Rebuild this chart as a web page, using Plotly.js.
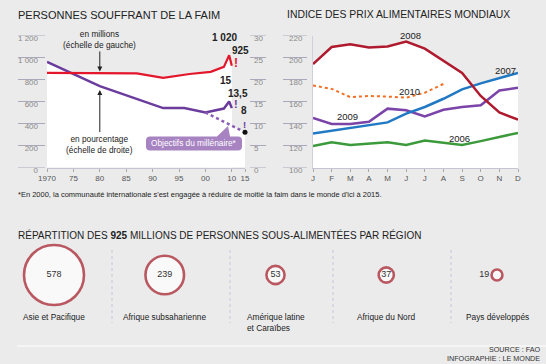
<!DOCTYPE html>
<html><head><meta charset="utf-8">
<script src="https://cdn.plot.ly/plotly-3.0.1.min.js"></script>
<style>html,body{margin:0;padding:0;background:#ebebeb;}#chart{width:546px;height:364px;}</style>
</head><body><div id="chart"></div>
<script>
// ---------- DATA ----------
const hungerYears = [1970, 1980, 1987, 1992, 1997, 2002, 2007, 2009, 2010];
const hungerMillions = [860, 855, 855, 815, 850, 870, 915, 1020, 925];
const pctYears = [1970, 1980, 1992, 1996, 2000, 2007, 2009, 2010];
const hungerPct = [24, 18.5, 13.5, 13.5, 12.5, 13.4, 15, 13.5];
const goalYears = [2000, 2015];
const goalPct = [12.5, 8];
const yearTicks = [1970, 1975, 1980, 1985, 1990, 1995, 2000, 2010, 2015];
const yearTickLabels = ['1970', '75', '80', '85', '90', '95', '00', '10', '15'];
const millionTicks = [0, 200, 400, 600, 800, 1000, 1200];
const millionTickLabels = ['0', '200', '400', '600', '800', '1 000', '1 200'];
const pctTicks = [0, 5, 10, 15, 20, 25, 30];

const months = ['J', 'F', 'M', 'A', 'M', 'J', 'J', 'A', 'S', 'O', 'N', 'D'];
const fpiTicks = [100, 120, 140, 160, 180, 200, 220];
const fpi2006 = [119.5, 123, 120.5, 121.5, 123, 120.5, 124.5, 122.5, 120.5, 124, 128, 131.5];
const fpi2007 = [131, 133.5, 136, 138.5, 141, 149, 155, 162.5, 171, 176.5, 181, 186];
const fpi2008 = [194, 209.5, 212, 209, 210, 214.5, 208, 197, 186, 165, 150, 143.5];
const fpi2009 = [145, 139.5, 139.5, 141.5, 153.5, 152, 146.5, 152.5, 155, 156.5, 170, 172.5];
const fpi2010 = [174.5, 171.5, 164, 165, 164.5, 163.5, 168, 176];

const regions = ['Asie et Pacifique', 'Afrique subsaharienne', 'Amérique latine<br>et Caraïbes', 'Afrique du Nord', 'Pays développés'];
const regionMillions = [578, 239, 53, 37, 19];

// ---------- HELPERS ----------
const W = 546, H = 364;
const px = x => x / W, py = y => 1 - y / H;
const P = (x, y) => px(x).toFixed(5) + ',' + py(y).toFixed(5);
// broken time scale of the original: 1970-2000 full width, 2000-2015 compressed by half
const yearPos = y => (y <= 2000 ? y - 1970 : 30 + (y - 2000) * 0.5);
const FONT = '"Liberation Sans", Arial, Helvetica, sans-serif';
const RED = '#e3162c', PURPLE = '#6b3b9d';
const monthIdx = months.map((m, i) => i);

const traces = [];
const fillT = (x, y, xa, ya) => ({x, y, xaxis: xa, yaxis: ya, mode: 'lines', fill: 'tozeroy',
  fillcolor: '#ffffff', line: {width: 0, color: 'rgba(0,0,0,0)'}, hoverinfo: 'skip'});
// left chart white area
traces.push(fillT(hungerYears.map(yearPos), hungerMillions, 'x', 'y'));
traces.push(fillT(pctYears.map(yearPos), hungerPct, 'x', 'y2'));
traces.push(fillT(goalYears.map(yearPos), goalPct, 'x', 'y2'));
// purple lines
traces.push({x: pctYears.map(yearPos), y: hungerPct, xaxis: 'x', yaxis: 'y2', mode: 'lines',
  line: {color: PURPLE, width: 2.5}, cliponaxis: false});
traces.push({x: goalYears.map(yearPos), y: goalPct, xaxis: 'x', yaxis: 'y2', mode: 'lines',
  line: {color: '#8a5bb5', width: 2.5, dash: 'dot'}, cliponaxis: false});
traces.push({x: [yearPos(goalYears[1])], y: [goalPct[1]], xaxis: 'x', yaxis: 'y2', mode: 'markers',
  marker: {color: '#111', size: 5}, cliponaxis: false});
// red line on an overlay with the same scale as left axis
traces.push({x: hungerYears.map(yearPos), y: hungerMillions, xaxis: 'x', yaxis: 'y5', mode: 'lines',
  line: {color: RED, width: 2.2}, cliponaxis: false});

// right chart white area
[fpi2006, fpi2007, fpi2008, fpi2009, fpi2010].forEach(s => traces.push(fillT(monthIdx.slice(0, s.length), s, 'x3', 'y3')));
const fpiLine = (s, color, dash, w) => ({x: monthIdx.slice(0, s.length), y: s, xaxis: 'x3', yaxis: 'y3',
  mode: 'lines', line: {color, width: w, dash}, cliponaxis: false});
traces.push(fpiLine(fpi2006, '#3c9a3c', 'solid', 2.5));
traces.push(fpiLine(fpi2009, '#7a44a8', 'solid', 2.5));
traces.push(fpiLine(fpi2007, '#2179c4', 'solid', 2.5));
traces.push(fpiLine(fpi2008, '#b01a2e', 'solid', 2.5));
traces.push(fpiLine(fpi2010, '#f36f25', 'dot', 2));

// bubbles (area proportional, largest diameter 60 px)
traces.push({x: regions.map((r, i) => i), y: regions.map(() => 0), xaxis: 'x4', yaxis: 'y4',
  mode: 'markers+text', text: regionMillions.map(String),
  textposition: regionMillions.map((v, i) => i === regionMillions.length - 1 ? 'middle left' : 'middle center'),
  textfont: {size: 9, color: '#333', family: FONT},
  marker: {size: regionMillions, sizemode: 'area', sizeref: 2 * Math.max(...regionMillions) / (60 * 60),
    color: '#ffffff', line: {color: '#a51b28', width: 2.6}}, cliponaxis: false, hoverinfo: 'skip'});

// ---------- SHAPES ----------
const shapes = [];
const ul = (xref0, xref1, yref, v) => ({type: 'line', xref: 'paper', yref, x0: px(xref0), x1: px(xref1),
  y0: v, y1: v, line: {color: '#a9a9bb', width: 1}});
millionTicks.forEach(v => shapes.push(ul(18, 45, 'y', v)));
pctTicks.forEach(v => shapes.push(ul(250, 266, 'y2', v)));
fpiTicks.forEach(v => shapes.push(ul(283, 307, 'y3', v)));
// callout box
shapes.push({type: 'path', xref: 'paper', yref: 'paper', line: {width: 0}, fillcolor: '#a783c2',
  path: `M ${P(150,136.5)} L ${P(217,136.5)} L ${P(228,126)} L ${P(230,136.5)} L ${P(238,136.5)} Q ${P(242,136.5)} ${P(242,140.5)} L ${P(242,146.5)} Q ${P(242,150.5)} ${P(238,150.5)} L ${P(150,150.5)} Q ${P(146,150.5)} ${P(146,146.5)} L ${P(146,140.5)} Q ${P(146,136.5)} ${P(150,136.5)} Z`});
// separators
[112, 230, 333, 451].forEach(x => shapes.push({type: 'line', xref: 'paper', yref: 'paper',
  x0: px(x), x1: px(x), y0: py(250), y1: py(323), line: {color: '#c6c6da', width: 1, dash: 'dot'}}));
shapes.push({type: 'line', xref: 'paper', yref: 'paper', x0: px(17), x1: 1, y0: py(346), y1: py(346),
  line: {color: '#ffffff', width: 1}});

// ---------- ANNOTATIONS ----------
const ann = [];
const T = (text, x, y, o = {}) => Object.assign({text, xref: 'paper', yref: 'paper', x: px(x), y: py(y),
  showarrow: false, xanchor: 'left', yanchor: 'middle', font: {size: 8, color: '#222', family: FONT}}, o);
ann.push(T('PERSONNES SOUFFRANT DE LA FAIM', 16, 15, {font: {size: 11, color: '#222', family: FONT}}));
ann.push(T('INDICE DES PRIX ALIMENTAIRES MONDIAUX', 285, 15, {font: {size: 10.4, color: '#222', family: FONT}}));
ann.push(T('*En 2000, la communauté internationale s\'est engagée à réduire de moitié la faim dans le monde d\'ici à 2015.', 16, 194, {font: {size: 7.5, color: '#222', family: FONT}}));
ann.push(T('RÉPARTITION DES <b>925</b> MILLIONS DE PERSONNES SOUS-ALIMENTÉES PAR RÉGION', 16, 235, {font: {size: 10, color: '#222', family: FONT}}));
ann.push(T('SOURCE : FAO<br>INFOGRAPHIE : LE MONDE', 542, 354, {xanchor: 'right', align: 'right', font: {size: 7.2, color: '#333', family: FONT}}));
ann.push(T('Objectifs du millénaire*', 194, 143.5, {xanchor: 'center', font: {size: 8.3, color: '#ffffff', family: FONT}}));

// arrows with explanations
ann.push({text: 'en millions<br>(échelle de gauche)', xref: 'x', yref: 'y', x: yearPos(hungerYears[1]), y: hungerMillions[1],
  ax: 0, ay: -34, showarrow: true, arrowhead: 2, arrowsize: 1, arrowwidth: 1, arrowcolor: '#222', standoff: 2,
  font: {size: 8.3, color: '#222', family: FONT}});
ann.push({text: 'en pourcentage<br>(échelle de droite)', xref: 'x', yref: 'y2', x: yearPos(pctYears[1]), y: hungerPct[1],
  ax: 0, ay: 58, showarrow: true, arrowhead: 2, arrowsize: 1, arrowwidth: 1, arrowcolor: '#222', standoff: 4,
  font: {size: 8.3, color: '#222', family: FONT}});

// value labels
const V = (text, x, y, yref, xs, ys, o = {}) => Object.assign({text, xref: 'x', yref, x, y, xshift: xs, yshift: ys,
  showarrow: false, font: {size: 10, color: '#222', family: FONT}}, o);
const iPeak = hungerYears.indexOf(2009), iLast = hungerYears.length - 1;
ann.push(V('<b>1 020</b>', yearPos(hungerYears[iPeak]), hungerMillions[iPeak], 'y', -5, 18));
ann.push(V('<b>925</b>', yearPos(hungerYears[iLast]), hungerMillions[iLast], 'y', 9, 15));
ann.push(V('<b>!</b>', yearPos(hungerYears[iLast]), hungerMillions[iLast], 'y', 4, 3, {font: {size: 12, color: RED, family: FONT}}));
const jPeak = pctYears.indexOf(2009), jLast = pctYears.length - 1;
ann.push(V('<b>15</b>', yearPos(pctYears[jPeak]), hungerPct[jPeak], 'y2', -3, 21));
ann.push(V('<b>13,5</b>', yearPos(pctYears[jLast]), hungerPct[jLast], 'y2', 6, 15));
ann.push(V('<b>!</b>', yearPos(pctYears[jLast]), hungerPct[jLast], 'y2', 4, 4, {font: {size: 11, color: PURPLE, family: FONT}}));
ann.push(V('<b>8</b>', yearPos(goalYears[1]), goalPct[1], 'y2', -1, 22));
ann.push(V('<b>!</b>', yearPos(goalYears[1]), goalPct[1], 'y2', -1, 8, {font: {size: 9.5, color: PURPLE, family: FONT}}));

// year labels right chart
[['2008', 410, 36], ['2007', 505, 70], ['2010', 409, 91], ['2009', 347, 117], ['2006', 459, 138]].forEach(a =>
  ann.push(T(a[0], a[1], a[2], {xanchor: 'center', font: {size: 9.5, color: '#222', family: FONT}})));

// region labels
regions.forEach((r, i) => ann.push({text: r, xref: 'x4', yref: 'paper', x: i, y: py(310), xanchor: 'center', yanchor: 'top',
  align: 'left', showarrow: false, font: {size: 8.3, color: '#222', family: FONT}}));

// ---------- LAYOUT ----------
const tickF = {size: 8, color: '#8a8a8a', family: FONT};
const layout = {
  width: W, height: H, margin: {l: 0, r: 0, t: 0, b: 0},
  paper_bgcolor: '#ebebeb', plot_bgcolor: 'rgba(0,0,0,0)', showlegend: false,
  font: {family: FONT, size: 8, color: '#333'},
  xaxis: {domain: [px(47), px(245)], range: [0, 37.5], anchor: 'y', tickvals: yearTicks.map(yearPos), ticktext: yearTickLabels,
    showgrid: false, zeroline: false, ticks: 'outside', ticklen: 3, tickcolor: '#aaa', showline: true, linecolor: '#c4c4d2',
    tickfont: {size: 8, color: '#555', family: FONT}},
  yaxis: {domain: [py(167.5), py(35.5)], range: [0, 1200], anchor: 'x', tickvals: millionTicks, ticktext: millionTickLabels,
    showgrid: false, zeroline: false, showline: false, ticks: '', tickfont: tickF, ticklabelshift: 3, ticklabelstandoff: 8},
  yaxis2: {overlaying: 'y', side: 'right', anchor: 'x', range: [0, 30], tickvals: pctTicks, showgrid: false, zeroline: false,
    ticks: '', tickfont: tickF, ticklabelshift: 3, ticklabelstandoff: 8},
  yaxis5: {overlaying: 'y', range: [0, 1200], visible: false, anchor: 'x'},
  xaxis3: {domain: [px(313), px(518)], range: [0, 11], anchor: 'y3', tickvals: monthIdx, ticktext: months,
    showgrid: false, zeroline: false, ticks: 'outside', ticklen: 3, tickcolor: '#aaa', showline: true, linecolor: '#c4c4d2',
    tickfont: {size: 8, color: '#555', family: FONT}},
  yaxis3: {domain: [py(167.5), py(35.5)], range: [100, 220], anchor: 'x3', tickvals: fpiTicks, showgrid: false, zeroline: false,
    showline: true, linecolor: '#d0d0dc', ticks: '', tickfont: tickF, ticklabelshift: 3, ticklabelstandoff: 8},
  xaxis4: {domain: [0, 1], range: [-0.4876, 4.4424], visible: false, anchor: 'y4'},
  yaxis4: {domain: [py(300), py(250)], range: [-1, 1], visible: false, anchor: 'x4'},
  shapes, annotations: ann
};
Plotly.newPlot('chart', traces, layout, {staticPlot: true, displayModeBar: false});
</script></body></html>
